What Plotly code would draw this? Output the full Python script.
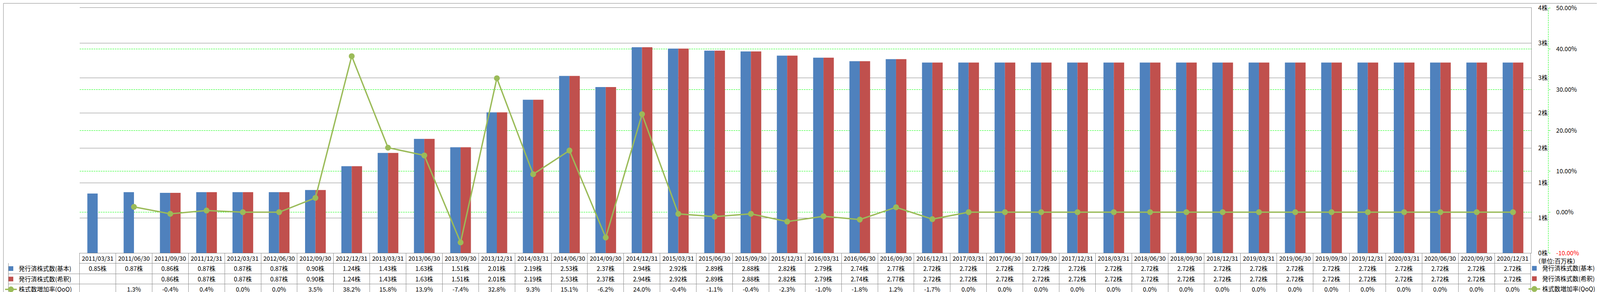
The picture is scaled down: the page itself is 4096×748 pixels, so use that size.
import plotly.graph_objects as go

# ---------------- data ----------------
categories = [
    "2011/03/31", "2011/06/30", "2011/09/30", "2011/12/31",
    "2012/03/31", "2012/06/30", "2012/09/30", "2012/12/31",
    "2013/03/31", "2013/06/30", "2013/09/30", "2013/12/31",
    "2014/03/31", "2014/06/30", "2014/09/30", "2014/12/31",
    "2015/03/31", "2015/06/30", "2015/09/30", "2015/12/31",
    "2016/03/31", "2016/06/30", "2016/09/30", "2016/12/31",
    "2017/03/31", "2017/06/30", "2017/09/30", "2017/12/31",
    "2018/03/31", "2018/06/30", "2018/09/30", "2018/12/31",
    "2019/03/31", "2019/06/30", "2019/09/30", "2019/12/31",
    "2020/03/31", "2020/06/30", "2020/09/30", "2020/12/31",
]
shares_basic = [
    0.85, 0.87, 0.86, 0.87, 0.87, 0.87, 0.90, 1.24,
    1.43, 1.63, 1.51, 2.01, 2.19, 2.53, 2.37, 2.94,
    2.92, 2.89, 2.88, 2.82, 2.79, 2.74, 2.77, 2.72,
    2.72, 2.72, 2.72, 2.72, 2.72, 2.72, 2.72, 2.72,
    2.72, 2.72, 2.72, 2.72, 2.72, 2.72, 2.72, 2.72,
]
shares_diluted = [
    None, None, 0.86, 0.87, 0.87, 0.87, 0.90, 1.24,
    1.43, 1.63, 1.51, 2.01, 2.19, 2.53, 2.37, 2.94,
    2.92, 2.89, 2.88, 2.82, 2.79, 2.74, 2.77, 2.72,
    2.72, 2.72, 2.72, 2.72, 2.72, 2.72, 2.72, 2.72,
    2.72, 2.72, 2.72, 2.72, 2.72, 2.72, 2.72, 2.72,
]
qoq_growth = [
    None, 1.3, -0.4, 0.4, 0.0, 0.0, 3.5, 38.2,
    15.8, 13.9, -7.4, 32.8, 9.3, 15.1, -6.2, 24.0,
    -0.4, -1.1, -0.4, -2.3, -1.0, -1.8, 1.2, -1.7,
    0.0, 0.0, 0.0, 0.0, 0.0, 0.0, 0.0, 0.0,
    0.0, 0.0, 0.0, 0.0, 0.0, 0.0, 0.0, 0.0,
]
series_names = ["発行済株式数(基本)", "発行済株式数(希釈)", "株式数増加率(QoQ)"]
share_tick_values = [0, 0.5, 1.0, 1.5, 2.0, 2.5, 3.0, 3.5]
share_tick_labels = ["0株", "1株", "1株", "2株", "2株", "3株", "3株", "4株"]
pct_tick_values = [-10, 0, 10, 20, 30, 40, 50]
pct_tick_labels = ["-10.00%", "0.00%", "10.00%", "20.00%", "30.00%", "40.00%", "50.00%"]
unit_label = "（単位:百万株）"

# ---------------- styling / geometry ----------------
RW, RH = 4701.0, 858.0      # reference size
W, H = 4096, 748            # output size
def px(x):
    return x / RW
def py(y):
    return 1 - y / RH

FS = 15.5
FONT = "Noto Sans CJK JP"
BLUE, RED, GREEN = "#4F81BD", "#C0504D", "#9BBB59"
GRID = "#878787"
LIME = "#00FF00"
DASH = "4px,2px"

fig = go.Figure()
fig.add_trace(go.Bar(x=categories, y=shares_basic, name=series_names[0],
                     marker=dict(color=BLUE, line=dict(width=0)),
                     offsetgroup="basic", legendgroup="g1"))
fig.add_trace(go.Bar(x=categories, y=shares_diluted, name=series_names[1],
                     marker=dict(color=RED, line=dict(width=0)),
                     offsetgroup="diluted", legendgroup="g2"))
fig.add_trace(go.Scatter(x=categories, y=qoq_growth, name=series_names[2], yaxis="y2",
                         mode="lines+markers", line=dict(color=GREEN, width=3.5),
                         marker=dict(color=GREEN, size=15), legendgroup="g3"))

# legend keys shown in the data table's label column (they carry no data)
fig.add_trace(go.Bar(x=[None], y=[None], name=series_names[0], legend="legend2",
                     marker=dict(color=BLUE, line=dict(width=0)),
                     offsetgroup="basic", legendgroup="k1", hoverinfo="skip"))
fig.add_trace(go.Bar(x=[None], y=[None], name=series_names[1], legend="legend2",
                     marker=dict(color=RED, line=dict(width=0)),
                     offsetgroup="diluted", legendgroup="k2", hoverinfo="skip"))
fig.add_trace(go.Scatter(x=[None], y=[None], name=series_names[2], legend="legend2",
                         yaxis="y2", mode="lines+markers",
                         line=dict(color=GREEN, width=3.5),
                         marker=dict(color=GREEN, size=15), legendgroup="k3",
                         hoverinfo="skip"))

# ---------------- data table ----------------
def fmt_share(v):
    return "" if v is None else f"{v:.2f}株"
def fmt_pct(v):
    return "" if v is None else f"{v:.1f}%"

cell_columns = [["", "", ""]] + [
    [fmt_share(b), fmt_share(d), fmt_pct(q)]
    for b, d, q in zip(shares_basic, shares_diluted, qoq_growth)
]
ncat = len(categories)
fig.add_trace(go.Table(
    domain=dict(x=[px(16), px(4489.5)], y=[py(857), py(734.3)]),
    columnwidth=[208.5] + [106.6] * ncat,
    header=dict(values=[""] + categories, height=26.5,
                fill=dict(color="white"),
                line=dict(color=["rgba(0,0,0,0)"] + [GRID] * ncat, width=1),
                font=dict(family=FONT, size=FS, color="black"), align="center"),
    cells=dict(values=cell_columns, height=26.5,
               fill=dict(color="white"),
               line=dict(color=GRID, width=1),
               font=dict(family=FONT, size=FS, color="black"),
               align="center"),
))

pct_tick_text = [f"<span style='color:#FF0000'>{t}</span>" if v < 0 else t
                 for v, t in zip(pct_tick_values, pct_tick_labels)]

legend_common = dict(font=dict(family=FONT, size=FS, color="black"),
                     bgcolor="rgba(0,0,0,0)", borderwidth=0,
                     tracegroupgap=3.4, itemwidth=30, traceorder="grouped",
                     valign="middle", yanchor="middle", xanchor="left")

fig.update_layout(
    width=W, height=H,
    margin=dict(l=0, r=0, t=0, b=0, autoexpand=False),
    paper_bgcolor="white", plot_bgcolor="white",
    font=dict(family=FONT, size=FS, color="black"),
    barmode="group", bargap=0.43, bargroupgap=0,
    xaxis=dict(domain=[px(224.5), px(4489.5)], type="category",
               range=[-0.5, ncat - 0.5], autorange=False, automargin=False,
               showticklabels=False, ticks="", showgrid=False,
               showline=True, mirror=True, linecolor=GRID, linewidth=1),
    yaxis=dict(domain=[py(734.3), py(14.3)], range=[0, 3.5], side="right",
               automargin=False,
               tickvals=share_tick_values, ticktext=share_tick_labels,
               showgrid=True, gridcolor=GRID, gridwidth=1, zeroline=False,
               showline=True, linecolor=GRID, linewidth=1, ticks="",
               ticklabelstandoff=14, ticklabeloverflow="allow",
               tickfont=dict(size=FS, color="black")),
    yaxis2=dict(overlaying="y", side="right", anchor="free", position=px(4540),
                automargin=False,
                range=[-10, 50], tickvals=pct_tick_values, ticktext=pct_tick_text,
                showgrid=True, gridcolor=LIME, gridwidth=1, griddash=DASH,
                zeroline=False, showline=False, ticks="outside", ticklen=4,
                tickcolor=LIME, ticklabelstandoff=12, ticklabeloverflow="allow",
                tickfont=dict(size=FS, color="black")),
    legend=dict(x=px(4476), y=py(810), **legend_common),
    legend2=dict(x=0.0, y=py(811), **legend_common),
    shapes=[
        dict(type="line", xref="paper", yref="paper", x0=px(4540), x1=px(4540),
             y0=py(734.3), y1=py(14.3), line=dict(color=LIME, width=1, dash=DASH)),
        dict(type="rect", xref="paper", yref="paper", x0=0.0002, x1=0.9998,
             y0=0.0007, y1=0.9993, line=dict(color=GRID, width=1)),
    ],
    annotations=[
        dict(text=unit_label, xref="paper", yref="paper", x=px(4498), y=py(757),
             xanchor="left", yanchor="middle", showarrow=False,
             font=dict(family=FONT, size=FS, color="black")),
    ],
)

fig.write_html("out.html")
